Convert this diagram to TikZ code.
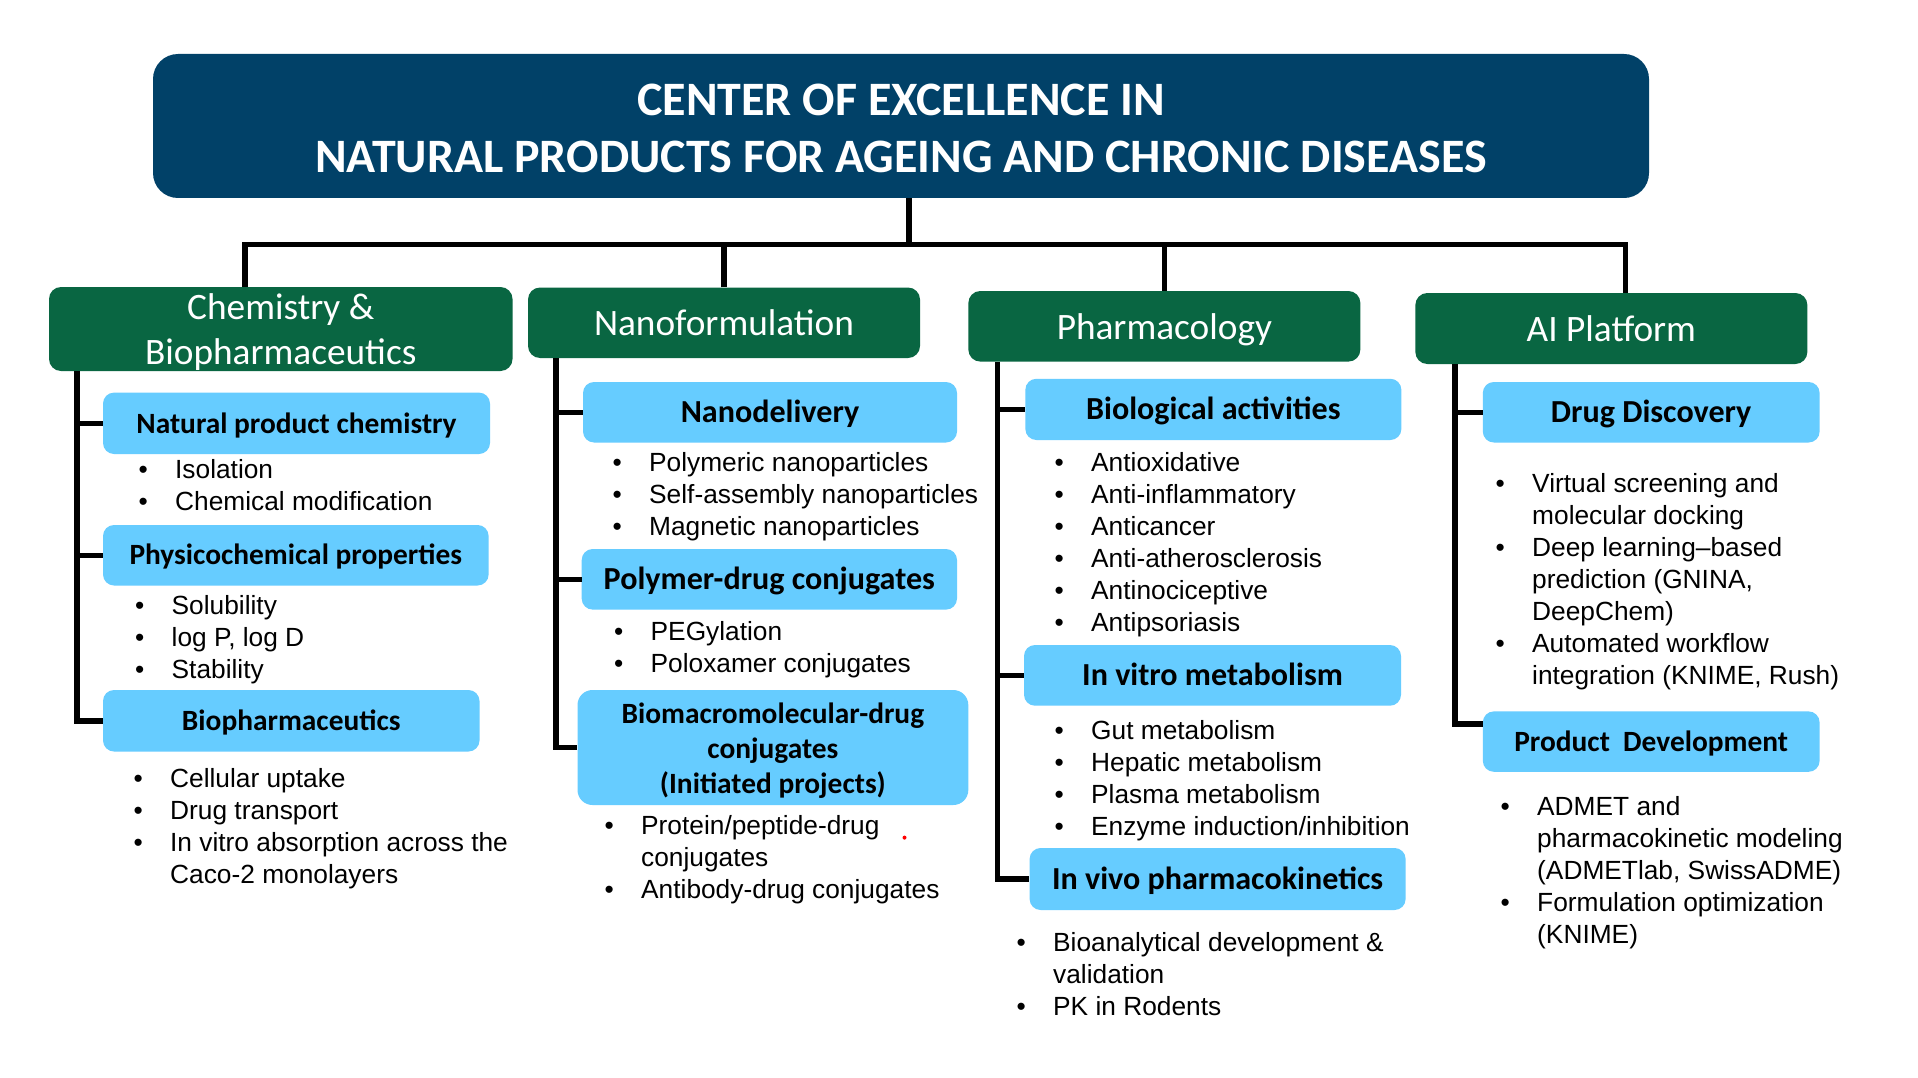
\documentclass[tikz,border=0pt]{standalone}
\usepackage{fontspec}
\setmainfont{Liberation Sans}
\newfontfamily\calfont{Carlito}
\definecolor{titleblue}{RGB}{1,65,104}
\definecolor{hdrgreen}{RGB}{9,102,66}
\definecolor{subblue}{RGB}{102,204,255}
\newcommand\bullist[1]{\begin{tabular}[t]{@{}p{36.5pt}@{}l@{}}#1\end{tabular}}
\tikzset{
 titlebox/.style={fill=titleblue, rounded corners=25pt, inner sep=0pt, align=center, text=white, font=\calfont\bfseries\fontsize{48}{57.5}\selectfont},
 hdrbox/.style={fill=hdrgreen, rounded corners=12pt, inner sep=0pt, align=center, text=white, font=\calfont\fontsize{37.3}{45}\selectfont},
 hdrone/.style={hdrbox, text height=26pt, text depth=0pt},
 subbox/.style={fill=subblue, rounded corners=11pt, inner sep=0pt, align=center, text=black, font=\calfont\bfseries\fontsize{29.4}{35.3}\selectfont},
 subA/.style={subbox, text height=19.4pt, text depth=0pt},
 subB/.style={subbox, font=\calfont\bfseries\fontsize{32.1}{38}\selectfont, text height=21pt, text depth=0pt},
 conn/.style={line width=5.5pt, black},
 blist/.style={anchor=base west, inner sep=0pt, font=\fontsize{26.3}{32}\selectfont}
}
\begin{document}
\begin{tikzpicture}[x=1pt,y=-1pt]
\useasboundingbox (0,0) rectangle (1918,1078);
\fill[white] (0,0) rectangle (1918,1078);
% title
\node[titlebox, minimum width=1496pt, minimum height=144pt] (title) at (901,126) {\rule{0pt}{36pt}CENTER OF EXCELLENCE IN\\NATURAL PRODUCTS FOR AGEING AND CHRONIC DISEASES};
% headers
\node[hdrbox, minimum width=463.5pt, minimum height=84pt] (g1) at (280.75,329) {\rule{0pt}{32pt}Chemistry \&\\Biopharmaceutics};
\node[hdrone, minimum width=392pt, minimum height=70.5pt] (g2) at (724,322.75) {Nanoformulation};
\node[hdrone, minimum width=392pt, minimum height=70.6pt] (g3) at (1164.35,326.3) {Pharmacology};
\node[hdrone, minimum width=392pt, minimum height=71pt] (g4) at (1611.35,328.5) {AI Platform};
% sub boxes
\node[subA, minimum width=387pt, minimum height=61.4pt] (npc) at (296.5,423.3) {Natural product chemistry};
\node[subA, minimum width=385.6pt, minimum height=60.5pt] (pcp) at (295.8,555.25) {Physicochemical properties};
\node[subA, minimum width=376.5pt, minimum height=61.5pt] (bph) at (291.25,720.75) {Biopharmaceutics};
\node[subB, minimum width=374pt, minimum height=60.5pt] (nd) at (770,412.25) {Nanodelivery};
\node[subB, minimum width=375.3pt, minimum height=60.6pt] (pdc) at (769.35,579.3) {Polymer-drug conjugates};
\node[subbox, rounded corners=15pt, minimum width=390.8pt, minimum height=115pt] (bmc) at (772.9,747.5) {\rule{0pt}{27pt}Biomacromolecular-drug\\conjugates\\(Initiated projects)};
\node[subB, minimum width=376pt, minimum height=61.2pt] (bact) at (1213.35,409.4) {Biological activities};
\node[subB, minimum width=377pt, minimum height=60.7pt] (ivm) at (1212.5,675.35) {In vitro metabolism};
\node[subB, minimum width=376pt, minimum height=62pt] (ivpk) at (1217.6,879) {In vivo pharmacokinetics};
\node[subB, minimum width=336.8pt, minimum height=60.5pt] (dd) at (1651.2,412.25) {Drug Discovery};
\node[subA, minimum width=336.8pt, minimum height=60.4pt] (prd) at (1651.2,741.6) {Product\ \ Development};
% tree
\coordinate (hub) at (909,244.5);
\coordinate (hl) at (245,244.5);
\coordinate (hr) at (1625.5,244.5);
\draw[conn] (title.south -| hub) -- (hub);
\draw[conn] (g1.north -| hl) -- (hl) -- (hr) -- (g4.north -| hr);
\draw[conn] (g2.north) -- (g2.north |- hub);
\draw[conn] (g3.north) -- (g3.north |- hub);
% column lines
\coordinate (c1) at (77,0);
\coordinate (c2) at (556,0);
\coordinate (c3) at (997.5,0);
\coordinate (c4) at (1455,0);
\draw[conn] (g1.south -| c1) |- (bph.west);
\draw[conn] (npc.west -| c1) -- (npc.west);
\draw[conn] (pcp.west -| c1) -- (pcp.west);
\draw[conn] (g2.south -| c2) |- (bmc.west);
\draw[conn] (nd.west -| c2) -- (nd.west);
\draw[conn] (pdc.west -| c2) -- (pdc.west);
\draw[conn] (g3.south -| c3) |- (ivpk.west);
\draw[conn] (bact.west -| c3) -- (bact.west);
\draw[conn] (ivm.west -| c3) -- (ivm.west);
\draw[conn] (g4.south -| c4) |- ([yshift=17.6pt]prd.west);
\draw[conn] (dd.west -| c4) -- (dd.west);
% bullet lists
\node[blist] (l1) at (138.5,478.7) {\bullist{• & Isolation\\ • & Chemical modification}};
\node[blist] (l2) at (135,614.5) {\bullist{• & Solubility\\ • & log P, log D\\ • & Stability}};
\node[blist] (l3) at (133.5,787.7) {\bullist{• & Cellular uptake\\ • & Drug transport\\ • & In vitro absorption across the\\ & Caco-2 monolayers}};
\node[blist] (l4) at (612.5,471.8) {\bullist{• & Polymeric nanoparticles\\ • & Self-assembly nanoparticles\\ • & Magnetic nanoparticles}};
\node[blist] (l5) at (614,640.6) {\bullist{• & PEGylation\\ • & Poloxamer conjugates}};
\node[blist] (l6) at (604.5,834) {\bullist{• & Protein/peptide-drug\\ & conjugates\\ • & Antibody-drug conjugates}};
\node[blist] (l7) at (1054.5,471.8) {\bullist{• & Antioxidative\\ • & Anti-inflammatory\\ • & Anticancer\\ • & Anti-atherosclerosis\\ • & Antinociceptive\\ • & Antipsoriasis}};
\node[blist] (l8) at (1054.5,739.5) {\bullist{• & Gut metabolism\\ • & Hepatic metabolism\\ • & Plasma metabolism\\ • & Enzyme induction/inhibition}};
\node[blist] (l9) at (1016.5,951) {\bullist{• & Bioanalytical development \&\\ & validation\\ • & PK in Rodents}};
\node[blist] (l10) at (1495.5,492.4) {\bullist{• & Virtual screening and\\ & molecular docking\\ • & Deep learning–based\\ & prediction (GNINA,\\ & DeepChem)\\ • & Automated workflow\\ & integration (KNIME, Rush)}};
\node[blist] (l11) at (1500.5,815.6) {\bullist{• & ADMET and\\ & pharmacokinetic modeling\\ & (ADMETlab, SwissADME)\\ • & Formulation optimization\\ & (KNIME)}};
\fill[red] (904.5,837.6) circle (2pt);
\end{tikzpicture}
\end{document}
